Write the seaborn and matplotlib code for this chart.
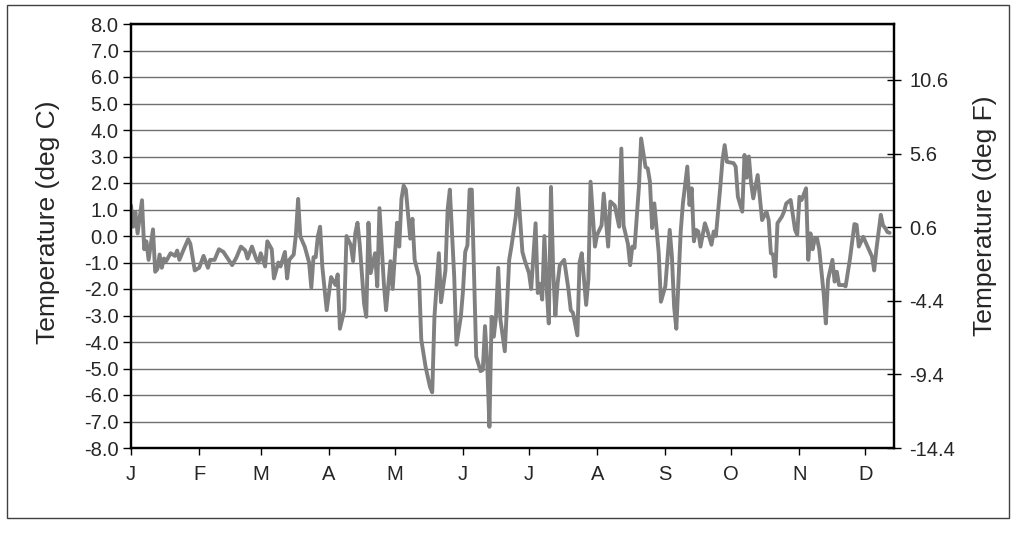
import numpy as np
import matplotlib
matplotlib.use("Agg")
import matplotlib.pyplot as plt
import seaborn as sns
from matplotlib.patches import Rectangle

# daily temperature departure (deg C)
days = [0, 1, 2, 3, 5, 6, 7, 8, 10, 11, 12, 13, 14, 15, 16, 18, 20, 21, 22, 24,
        26, 27, 29, 31, 33, 35, 36, 38, 40, 42, 44, 46, 48, 50, 52, 53, 55, 57, 58, 59,
        61, 62, 64, 65, 67, 68, 70, 71, 72, 74, 75, 76, 77, 79, 81, 82, 83, 84, 85, 86,
        87, 89, 91, 93, 94, 95, 97, 98, 100, 101, 102, 103, 104, 106, 107, 108, 109, 111, 112, 113,
        115, 116, 118, 119, 121, 122, 123, 124, 125, 127, 128, 129, 131, 132, 134, 136, 137, 138, 139, 140,
        141, 143, 144, 145, 147, 148, 150, 151, 152, 153, 154, 155, 157, 159, 160, 161, 162, 163, 164, 165,
        166, 167, 168, 170, 172, 173, 175, 176, 178, 179, 181, 182, 184, 185, 186, 187, 188, 189, 190, 191,
        192, 193, 194, 195, 197, 199, 200, 201, 203, 204, 205, 207, 208, 209, 211, 212, 214, 215, 217, 218,
        220, 222, 223, 224, 226, 227, 228, 229, 231, 232, 234, 235, 236, 237, 238, 240, 241, 243, 245, 246,
        247, 248, 250, 251, 253, 254, 255, 256, 257, 258, 259, 261, 262, 264, 265, 266, 268, 269, 270, 271,
        274, 275, 276, 278, 279, 280, 281, 282, 283, 285, 287, 289, 290, 291, 292, 293, 294, 296, 297, 298,
        300, 302, 303, 304, 305, 307, 308, 309, 310, 311, 312, 313, 315, 316, 317, 319, 320, 321, 322, 324,
        325, 327, 329, 330, 331, 333, 335, 337, 338, 339, 341, 342, 343, 344, 345]
temp_c = [1.15, 0.35, 0.9, 0.1, 1.35, -0.5, -0.2, -0.9, 0.25, -1.35, -1.25, -0.7, -1.2, -0.85, -0.95, -0.65, -0.75, -0.55, -0.9, -0.5,
          -0.12, -0.3, -1.3, -1.2, -0.75, -1.2, -0.9, -0.9, -0.5, -0.6, -0.85, -1.1, -0.8, -0.4, -0.55, -0.85, -0.4, -0.88, -1.0, -0.65,
          -1.15, -0.2, -0.5, -1.6, -1.0, -1.15, -0.6, -1.6, -0.9, -0.7, 0.05, 1.4, -0.02, -0.4, -1.0, -1.95, -0.8, -0.8, 0.0, 0.35,
          -1.15, -2.8, -1.55, -1.85, -1.45, -3.5, -2.8, 0.0, -0.35, -0.95, 0.1, 0.5, -0.3, -2.55, -3.05, 0.5, -1.4, -0.65, -1.9, 1.05,
          -1.8, -2.8, -0.95, -2.0, 0.5, -0.4, 1.4, 1.9, 1.75, -0.1, 0.65, -0.9, -1.55, -3.9, -4.95, -5.7, -5.9, -3.05, -1.85, -0.65,
          -2.5, -1.3, 1.0, 1.75, -1.55, -4.1, -3.05, -2.05, -0.6, -0.35, 1.75, 1.75, -4.55, -5.1, -5.05, -3.4, -4.8, -7.2, -3.05, -3.8,
          -3.05, -1.2, -3.15, -4.35, -0.9, -0.4, 0.73, 1.8, -0.6, -0.9, -1.4, -2.0, 0.48, -2.15, -1.8, -2.4, 0.0, -1.9, -3.3, 1.85,
          -1.3, -3.0, -1.8, -1.1, -0.9, -2.05, -2.8, -2.9, -3.75, -1.0, -0.65, -2.6, -1.65, 2.05, -0.4, 0.05, 0.4, 1.6, -0.4, 1.3,
          1.15, 0.35, 3.3, 0.4, -0.3, -1.1, -0.4, -0.45, 1.85, 3.68, 2.6, 2.55, 2.05, 0.3, 1.23, -0.65, -2.48, -1.9, 0.23, -0.78,
          -2.67, -3.5, 0.17, 1.23, 2.62, 1.17, 1.8, -0.2, 0.23, 0.17, -0.4, 0.48, 0.23, -0.33, 0.17, 0.0, 1.85, 2.87, 3.43, 2.8,
          2.75, 2.62, 1.48, 0.92, 3.06, 2.2, 3.0, 2.0, 1.42, 2.3, 0.6, 0.92, 0.6, -0.65, -0.7, -1.53, 0.48, 0.73, 0.92, 1.23,
          1.36, 0.23, 0.04, 1.48, 1.36, 1.8, -0.9, 0.1, -0.5, -0.1, -0.08, -0.5, -2.16, -3.3, -1.65, -0.9, -1.72, -1.35, -1.85, -1.85,
          -1.9, -0.85, 0.45, 0.42, -0.4, -0.03, -0.4, -0.78, -1.3, -0.5, 0.8, 0.4, 0.3, 0.15, 0.12]

month_days = [0, 31, 59, 90, 120, 151, 181, 212, 243, 273, 304, 334]
month_labels = ["J", "F", "M", "A", "M", "J", "J", "A", "S", "O", "N", "D"]
c_ticks = list(range(-8, 9))
f_ticks = [-14.4, -9.4, -4.4, 0.6, 5.6, 10.6]

sns.set_style("white")
plt.rcParams['font.family'] = ['Liberation Sans', 'DejaVu Sans']

W, H = 1016, 534
fig = plt.figure(figsize=(W / 100, H / 100), dpi=100)

# outer chart-area frame
fig.patches.append(Rectangle((7 / W, 1 - 518 / H), 1002 / W, 513 / H, transform=fig.transFigure,
                             fill=False, edgecolor='#404040', linewidth=1.0))

ax = fig.add_axes([131 / W, 1 - 448 / H, (894 - 131) / W, (448 - 24) / H])
sns.lineplot(x=days, y=temp_c, ax=ax, color='#808080', linewidth=2.8)

ax.set_xlim(0, 347)
ax.set_ylim(-8, 8)
ax.set_yticks(c_ticks)
ax.set_yticklabels([f"{v:.1f}" for v in c_ticks], fontsize=14.5)
ax.set_xticks(month_days)
ax.set_xticklabels(month_labels, fontsize=14.5)
ax.yaxis.grid(True, color='#707070', linewidth=1)
ax.xaxis.grid(False)
ax.set_axisbelow(True)
ax.tick_params(axis='y', direction='out', length=6, width=1, color='black', pad=3, left=True)
ax.tick_params(axis='x', direction='out', length=5, width=1, color='black', pad=7, bottom=True)
ax.set_xlabel("")
ax.set_ylabel("")
for sp in ax.spines.values():
    sp.set_color('black')
    sp.set_linewidth(1.6)

ax2 = ax.twinx()
ax2.set_ylim(-14.4, 14.4)
ax2.set_yticks(f_ticks)
ax2.set_yticklabels([f"{v:.1f}" for v in f_ticks], fontsize=14.5)
ax2.tick_params(axis='y', direction='inout', length=10, width=1, color='black', pad=6, right=True)
ax2.grid(False)
for sp in ax2.spines.values():
    sp.set_color('black')
    sp.set_linewidth(1.6)

fig.text(48 / W, 1 - 222 / H, "Temperature (deg C)", rotation=90, ha='center', va='center', fontsize=19)
fig.text(985 / W, 1 - 216 / H, "Temperature (deg F)", rotation=90, ha='center', va='center', fontsize=19)

fig.savefig("out.png", dpi=100)
